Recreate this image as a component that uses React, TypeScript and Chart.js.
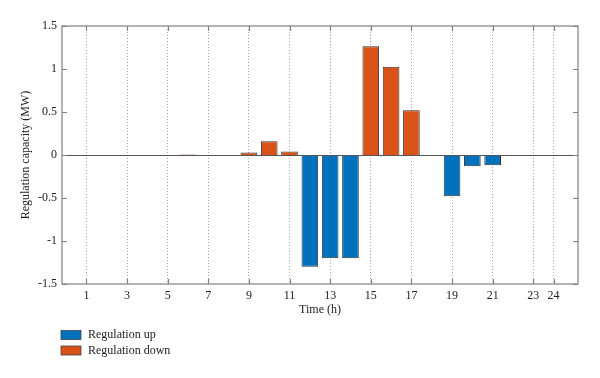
import React, { useEffect, useRef } from 'react';
import { Chart, registerables } from 'chart.js';

Chart.register(...registerables);

const hours = [1, 2, 3, 4, 5, 6, 7, 8, 9, 10, 11, 12, 13, 14, 15, 16, 17, 18, 19, 20, 21, 22, 23, 24];
const regulationUp = [null, null, null, null, null, null, null, null, null, null, null, -1.3, -1.2, -1.2, null, null, null, null, -0.48, -0.13, -0.12, null, null, null];
const regulationDown = [null, null, null, null, null, 0.005, null, null, 0.03, 0.16, 0.04, null, null, null, 1.265, 1.025, 0.52, null, null, null, null, null, null, null];
const xTickValues = [1, 3, 5, 7, 9, 11, 13, 15, 17, 19, 21, 23, 24];
const yTickValues = [-1.5, -1, -0.5, 0, 0.5, 1, 1.5];
const seriesLabels = ['Regulation up', 'Regulation down'];

const FONT = "'Liberation Serif', 'Times New Roman', serif";

const framePlugin = {
  id: 'frame',
  afterDatasetsDraw(chart: any) {
    const { ctx, chartArea: a, scales } = chart;
    const xs = scales.x;
    const ys = scales.y;
    ctx.save();
    // zero baseline
    const y0 = Math.round(ys.getPixelForValue(0)) + 0.5;
    ctx.strokeStyle = '#555';
    ctx.lineWidth = 1;
    ctx.beginPath();
    ctx.moveTo(a.left, y0);
    ctx.lineTo(a.right, y0);
    ctx.stroke();
    // box
    ctx.strokeStyle = '#808080';
    ctx.lineWidth = 1.2;
    ctx.strokeRect(a.left, a.top, a.right - a.left, a.bottom - a.top);
    // inward ticks
    const tl = 5;
    ctx.beginPath();
    xs.ticks.forEach((t: any) => {
      const px = Math.round(xs.getPixelForValue(t.value)) + 0.5;
      ctx.moveTo(px, a.top);
      ctx.lineTo(px, a.top + tl);
      ctx.moveTo(px, a.bottom);
      ctx.lineTo(px, a.bottom - tl);
    });
    ys.ticks.forEach((t: any) => {
      const py = Math.round(ys.getPixelForValue(t.value)) + 0.5;
      ctx.moveTo(a.left, py);
      ctx.lineTo(a.left + tl, py);
      ctx.moveTo(a.right, py);
      ctx.lineTo(a.right - tl, py);
    });
    ctx.stroke();
    ctx.restore();
  },
  afterDraw(chart: any) {
    const { ctx } = chart;
    ctx.save();
    ctx.font = `12px ${FONT}`;
    ctx.textBaseline = 'middle';
    ctx.textAlign = 'left';
    chart.data.datasets.forEach((ds: any, i: number) => {
      const cy = 335 + i * 15.5;
      ctx.fillStyle = ds.backgroundColor;
      ctx.fillRect(61, cy - 4.5, 20, 9);
      ctx.strokeStyle = '#444';
      ctx.lineWidth = 0.8;
      ctx.strokeRect(61, cy - 4.5, 20, 9);
      ctx.fillStyle = '#222';
      ctx.fillText(ds.label, 88, cy);
    });
    ctx.restore();
  },
};

export default function App() {
  const ref = useRef<HTMLCanvasElement>(null);
  useEffect(() => {
    if (!ref.current) return;
    Chart.defaults.font.family = FONT;
    Chart.defaults.color = '#222';
    const chart = new Chart(ref.current, {
      type: 'bar',
      data: {
        datasets: [
          {
            label: seriesLabels[0],
            data: hours.map((h, i) => ({ x: h, y: regulationUp[i] })) as any,
            backgroundColor: '#0072BD',
            borderColor: '#333',
            borderWidth: 1,
            barPercentage: 0.82,
            categoryPercentage: 1,
          },
          {
            label: seriesLabels[1],
            data: hours.map((h, i) => ({ x: h, y: regulationDown[i] })) as any,
            backgroundColor: '#D95319',
            borderColor: '#333',
            borderWidth: 1,
            barPercentage: 0.82,
            categoryPercentage: 1,
          },
        ],
      },
      options: {
        animation: false,
        responsive: false,
        layout: { padding: { left: 0, top: 26, right: 22, bottom: 58 } },
        plugins: { legend: { display: false }, tooltip: { enabled: false } },
        scales: {
          x: {
            type: 'linear',
            stacked: true,
            offset: false,
            min: -0.2,
            max: 25.2,
            afterBuildTicks: (s: any) => {
              s.ticks = xTickValues.map((v) => ({ value: v }));
            },
            afterFit: (s: any) => {
              s.height = 36;
            },
            ticks: {
              padding: 5,
              color: '#222',
              font: { size: 12, family: FONT },
              callback: (v: any) => String(v),
            },
            grid: {
              offset: false,
              drawTicks: false,
              color: 'rgba(0,0,0,0.35)',
              lineWidth: 1,
            },
            border: { display: false, dash: [1, 2] },
            title: {
              display: true,
              text: 'Time (h)',
              font: { size: 12, family: FONT },
              color: '#222',
              padding: { top: 0, bottom: 3 },
            },
          },
          y: {
            type: 'linear',
            stacked: true,
            min: -1.5,
            max: 1.5,
            afterBuildTicks: (s: any) => {
              s.ticks = yTickValues.map((v) => ({ value: v }));
            },
            afterFit: (s: any) => {
              s.width = 62;
            },
            ticks: {
              padding: 5,
              color: '#222',
              font: { size: 12, family: FONT },
              callback: (v: any) => String(v),
            },
            grid: { display: false, drawTicks: false },
            border: { display: false },
            title: {
              display: true,
              text: 'Regulation capacity (MW)',
              font: { size: 12, family: FONT },
              color: '#222',
              padding: { top: 19, bottom: 0 },
            },
          },
        },
      },
      plugins: [framePlugin],
    });
    return () => chart.destroy();
  }, []);
  return (
    <div style={{ position: 'fixed', left: 0, top: 0, width: 600, height: 378, background: '#fff' }}>
      <canvas ref={ref} width={600} height={378} />
    </div>
  );
}
